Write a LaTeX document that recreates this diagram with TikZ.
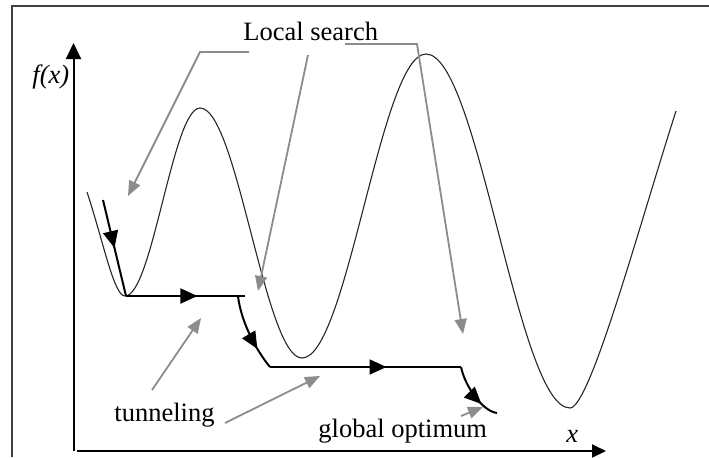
\documentclass[tikz,border=0pt]{standalone}
\usepackage{fontspec}
\setmainfont{Liberation Serif}
\usetikzlibrary{arrows.meta,decorations.markings}

\definecolor{calloutgray}{gray}{0.55}
\tikzset{
  lbl/.style={font=\fontsize{13.25}{16}\selectfont, inner sep=0pt},
  callout/.style={calloutgray, line width=0.9pt, -{Triangle[length=7.5pt,width=6pt]}},
  searchpath/.style={line width=1pt},
  midtip/.style={postaction={decorate},
    decoration={markings, mark=at position #1 with {\arrow{Triangle[length=8.5pt,width=7.5pt]}}}},
}

\begin{document}
\begin{tikzpicture}[x=0.5pt, y=-0.5pt]
      \useasboundingbox (0,0) rectangle (709,457);

      % Frame
      \draw[line width=0.6pt, black!75] (12,457) -- (12,6) -- (709,6);

      % Axes
      \coordinate (O) at (73.5,451);
      \coordinate (ytop) at (73.5,43);
      \coordinate (xstart) at (77,451);
      \coordinate (xend) at (606,451);
      \draw[line width=1pt, -{Triangle[length=8pt,width=7.5pt]}] (O) -- (ytop);
      \draw[line width=1pt, -{Triangle[length=7pt,width=6.5pt]}] (xstart) -- (xend);

      % Labels
      \node[lbl, anchor=base west] (fx) at (32,83) {\itshape f(x)};
      \node[lbl, anchor=base west] (xlab) at (566,442) {\itshape x};
      \node[lbl, anchor=base west] (local) at (243,40) {Local search};
      \node[lbl, anchor=base west] (tunnel) at (114,421) {tunneling};
      \node[lbl, anchor=base west] (globopt) at (318,437) {global optimum};

      % Landscape f(x)
      \draw[line width=0.55pt, black!85] (87,192) .. controls (104,244) and (114,296) .. (125,296)
        cos (162.5,202) sin (200,108) cos (251,233) sin (302,358)
        cos (364,206) sin (426,54) cos (498,231) sin (570,408)
        .. controls (590,408) and (640,223) .. (676,111);

      % Search path
      \coordinate (s0) at (103,200);
      \coordinate (s1) at (126,296);
      \coordinate (s2) at (245,296);
      \coordinate (s3) at (238,296);
      \coordinate (s4) at (270,367);
      \coordinate (s5) at (461,367);
      \coordinate (s6) at (497,413);
      \draw[searchpath, midtip=0.5] (s0) -- (s1);
      \draw[searchpath, midtip=0.6] (s1) -- (s2);
      \draw[searchpath, midtip=0.72] (s3) .. controls (241,322) and (256,350) .. (s4);
      \draw[searchpath, midtip=0.61] (s4) -- (s5);
      \draw[searchpath, midtip=0.7] (s5) .. controls (465,386) and (482,411) .. (s6);

      % Local search callouts
      \coordinate (ls1) at (249,52);
      \coordinate (ls1k) at (200,52);
      \coordinate (ls1t) at (128,196);
      \coordinate (ls2) at (308,55);
      \coordinate (ls2t) at (258,291);
      \coordinate (ls3) at (345,44);
      \coordinate (ls3k) at (417,44);
      \coordinate (ls3t) at (463,334);
      \draw[callout] (ls1) -- (ls1k) -- (ls1t);
      \draw[callout] (ls2) -- (ls2t);
      \draw[callout] (ls3) -- (ls3k) -- (ls3t);

      % Tunneling callouts
      \coordinate (tn1) at (152,390);
      \coordinate (tn1t) at (201,318);
      \coordinate (tn2) at (225,423);
      \coordinate (tn2t) at (320,376);
      \draw[callout] (tn1) -- (tn1t);
      \draw[callout] (tn2) -- (tn2t);

      % Global optimum callout
      \coordinate (go) at (461,416);
      \coordinate (got) at (483,407);
      \draw[callout] (go) -- (got);
\end{tikzpicture}
\end{document}
